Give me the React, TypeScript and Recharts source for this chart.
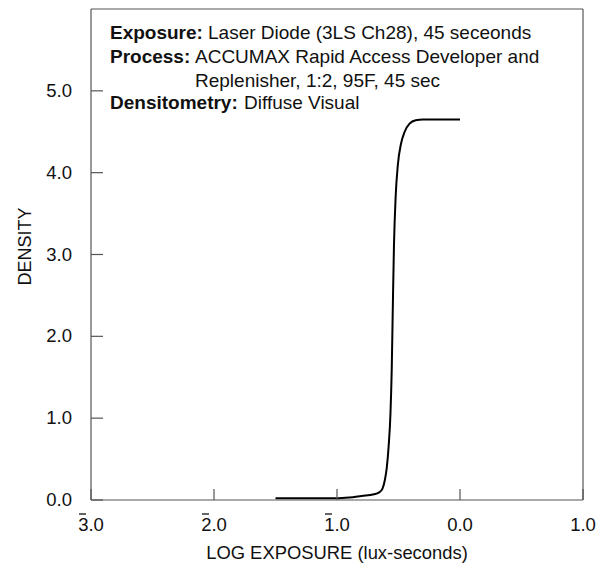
import React from 'react';
import { LineChart, Line, XAxis, YAxis, ReferenceLine, Label } from 'recharts';

// log exposure (lux-seconds) vs diffuse visual density
const logExposure = [
  -1.5, -1.2, -1.0, -0.9, -0.8, -0.7, -0.66, -0.63, -0.61, -0.595, -0.58, -0.565,
  -0.555, -0.547, -0.537, -0.523, -0.505, -0.48, -0.45, -0.41, -0.36, -0.3, -0.2, -0.1, 0.0,
];
const density = [
  0.02, 0.02, 0.02, 0.03, 0.05, 0.07, 0.09, 0.14, 0.25, 0.4, 0.66, 1.07,
  1.6, 2.29, 3.1, 3.71, 4.1, 4.35, 4.5, 4.6, 4.64, 4.65, 4.65, 4.65, 4.65,
];

const xTicks = [-3, -2, -1, 0, 1];
const xTickText = ['3.0', '2.0', '1.0', '0.0', '1.0'];
const xTickBar = [true, true, true, false, false];
const yTicks = [0, 1, 2, 3, 4, 5];
const yTickText = ['0.0', '1.0', '2.0', '3.0', '4.0', '5.0'];

const notes = [
  { key: 'Exposure:', text: 'Laser Diode (3LS Ch28), 45 seceonds' },
  { key: 'Process:', text: 'ACCUMAX Rapid Access Developer and' },
  { key: '', text: 'Replenisher, 1:2, 95F, 45 sec' },
  { key: 'Densitometry:', text: 'Diffuse Visual' },
];

const data = logExposure.map((x, i) => ({ x, d: density[i] }));

const FONT = '"Liberation Sans", Arial, Helvetica, sans-serif';
const AXIS = '#555';

const XTick = (props: any) => {
  const { x, y, payload } = props;
  const i = xTicks.indexOf(payload.value);
  return (
    <g>
      <line x1={x} y1={y} x2={x} y2={y - 11} stroke={AXIS} strokeWidth={1.2} />
      <text x={x} y={y + 31} textAnchor="middle" fontSize={18.5} fill="#111" fontFamily={FONT}>
        {xTickText[i]}
      </text>
      {xTickBar[i] && <line x1={x - 12} y1={y + 14} x2={x - 5} y2={y + 14} stroke="#111" strokeWidth={1.3} />}
    </g>
  );
};

const YTick = (props: any) => {
  const { x, y, payload } = props;
  const i = yTicks.indexOf(payload.value);
  return (
    <g>
      <line x1={x} y1={y} x2={x + 12} y2={y} stroke={AXIS} strokeWidth={1.2} />
      <text x={x - 19} y={y + 6} textAnchor="end" fontSize={18.5} fill="#111" fontFamily={FONT}>
        {yTickText[i]}
      </text>
    </g>
  );
};

const YTitle = (props: any) => {
  const { viewBox } = props;
  const cx = 25;
  const cy = viewBox.y + viewBox.height / 2 - 8;
  return (
    <text x={cx} y={cy} transform={`rotate(-90 ${cx} ${cy})`} textAnchor="middle" dominantBaseline="central"
      fontSize={18} fill="#111" fontFamily={FONT}>
      DENSITY
    </text>
  );
};

const XTitle = (props: any) => {
  const { viewBox } = props;
  return (
    <text x={viewBox.x + viewBox.width / 2} y={viewBox.y + 59} textAnchor="middle"
      fontSize={18.4} fill="#111" fontFamily={FONT}>
      LOG EXPOSURE (lux-seconds)
    </text>
  );
};

const noteKeyX = 110;
const noteValX = [208, 195, 195, 244];
const noteY = [39, 63, 87, 109];

export default function App() {
  return (
    <div style={{ position: 'absolute', left: 0, top: 0, width: 604, height: 569, background: '#fff', fontFamily: FONT }}>
      <LineChart width={604} height={569} data={data} margin={{ top: 9, right: 21, left: 0, bottom: 0 }}>
        <XAxis
          type="number"
          dataKey="x"
          domain={[-3, 1]}
          ticks={xTicks}
          interval={0}
          height={69}
          tickSize={0}
          tickMargin={0}
          tickLine={false}
          tick={<XTick />}
          axisLine={{ stroke: AXIS, strokeWidth: 1.2 }}
        >
          <Label content={<XTitle />} />
        </XAxis>
        <YAxis
          type="number"
          domain={[0, 6]}
          ticks={yTicks}
          interval={0}
          width={91}
          tickSize={0}
          tickMargin={0}
          tickLine={false}
          tick={<YTick />}
          axisLine={{ stroke: AXIS, strokeWidth: 1.2 }}
        >
          <Label content={<YTitle />} />
        </YAxis>
        <ReferenceLine y={6} stroke={AXIS} strokeWidth={1.2} />
        <ReferenceLine x={1} stroke={AXIS} strokeWidth={1.2} />
        <Line type="monotone" dataKey="d" stroke="#000" strokeWidth={2} dot={false} isAnimationActive={false} />
      </LineChart>
      <svg width={604} height={569} style={{ position: 'absolute', left: 0, top: 0, pointerEvents: 'none' }}>
        {notes.map((n, i) => (
          <text key={i} y={noteY[i]} fontSize={19} fill="#111" fontFamily={FONT}>
            {n.key && <tspan x={noteKeyX} fontWeight="bold">{n.key}</tspan>}
            <tspan x={noteValX[i]}>{n.text}</tspan>
          </text>
        ))}
      </svg>
    </div>
  );
}
